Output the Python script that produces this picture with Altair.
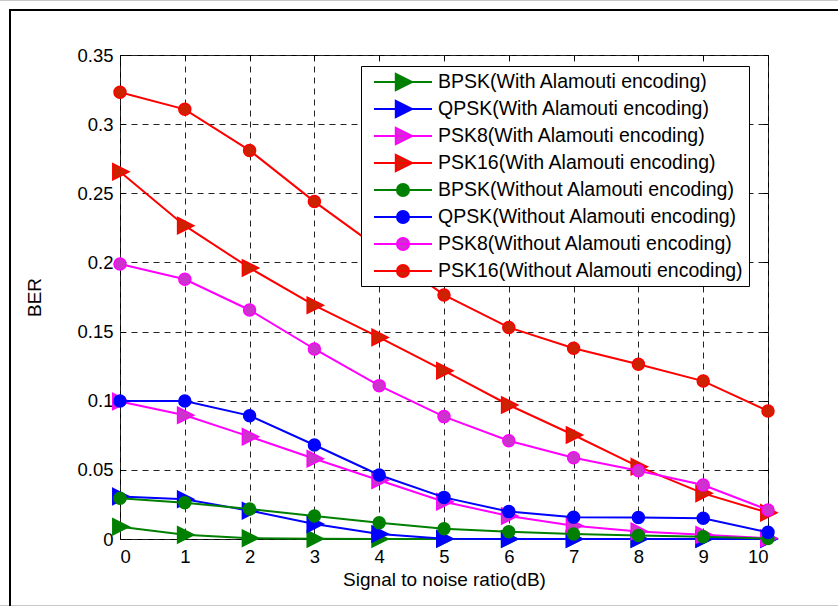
import altair as alt
import pandas as pd

# ---------------- data ----------------
snr = [0, 1, 2, 3, 4, 5, 6, 7, 8, 9, 10]
series_names = [
    "BPSK(With Alamouti encoding)",
    "QPSK(With Alamouti encoding)",
    "PSK8(With Alamouti encoding)",
    "PSK16(With Alamouti encoding)",
    "BPSK(Without Alamouti encoding)",
    "QPSK(Without Alamouti encoding)",
    "PSK8(Without Alamouti encoding)",
    "PSK16(Without Alamouti encoding)",
]
bpsk_with = [0.0089, 0.0030, 0.0006, 0.0001, 0.0, 0.0, 0.0, 0.0, 0.0, 0.0, 0.0]
qpsk_with = [0.0308, 0.0288, 0.0205, 0.0108, 0.0036, 0.0002, 0.0, 0.0, 0.0, 0.0, 0.0]
psk8_with = [0.0995, 0.0895, 0.0740, 0.0580, 0.0425, 0.0270, 0.0166, 0.0095, 0.0055, 0.0030, 0.0005]
psk16_with = [0.2656, 0.2266, 0.1960, 0.1690, 0.1458, 0.1217, 0.0969, 0.0752, 0.0523, 0.0330, 0.0190]
bpsk_without = [0.0294, 0.0263, 0.0217, 0.0166, 0.0118, 0.0074, 0.0053, 0.0036, 0.0025, 0.0017, 0.0003]
qpsk_without = [0.0998, 0.0998, 0.0892, 0.0680, 0.0463, 0.0301, 0.0198, 0.0158, 0.0156, 0.0150, 0.0048]
psk8_without = [0.1989, 0.1878, 0.1656, 0.1374, 0.1109, 0.0885, 0.0711, 0.0588, 0.0494, 0.0390, 0.0210]
psk16_without = [0.3230, 0.3107, 0.2810, 0.2440, 0.2100, 0.1765, 0.1530, 0.1380, 0.1263, 0.1142, 0.0926]
series_values = [bpsk_with, qpsk_with, psk8_with, psk16_with,
                 bpsk_without, qpsk_without, psk8_without, psk16_without]
y_ticks = [0, 0.05, 0.1, 0.15, 0.2, 0.25, 0.3, 0.35]

# ---------------- style ----------------
line_colors = ["#008000", "#0000ff", "#ff00ff", "#ff0000"] * 2
fill_colors = ["#008000", "#0000ff", "#cc33cc", "#cc2200"] * 2
TRI = "M-0.8,-0.9L1,0L-0.8,0.9Z"
plot_shapes = [TRI] * 4 + ["circle"] * 4
plot_sizes = [324] * 4 + [144] * 4
TRI_LEG = "M-2.9,0H2.9M-0.72,-0.81L0.9,0L-0.72,0.81Z"
CIRC_LEG = "M-2.9,0H2.9M-0.6,0A0.6,0.6,0,1,0,0.6,0A0.6,0.6,0,1,0,-0.6,0Z"
legend_shapes = [TRI_LEG] * 4 + [CIRC_LEG] * 4
FONT = "Liberation Sans"
W, H = 648, 484

rows = []
for name, vals in zip(series_names, series_values):
    for s, v in zip(snr, vals):
        rows.append({"snr": s, "ber": v, "series": name})
df = pd.DataFrame(rows)


def xenc(axis):
    return alt.X("snr:Q", scale=alt.Scale(domain=[0, 10], nice=False, zero=False), axis=axis)


def yenc(axis):
    return alt.Y("ber:Q", scale=alt.Scale(domain=[0, 0.35], nice=False), axis=axis)


main_x = alt.Axis(values=snr, grid=True, gridDash=[6, 5], gridColor="#222", gridWidth=1,
                  ticks=False, domain=False, labelFontSize=18.5, labelColor="black",
                  labelPadding=8, labelFont=FONT, title="Signal to noise ratio(dB)",
                  titleFontSize=19, titleFontWeight="normal", titleColor="black",
                  titleFont=FONT, titlePadding=5)
main_y = alt.Axis(values=y_ticks, format="~g", grid=True, gridDash=[6, 5], gridColor="#222",
                  gridWidth=1, ticks=False, domain=False, labelFontSize=18.5,
                  labelColor="black", labelPadding=7, labelFont=FONT, title="BER",
                  titleFontSize=19, titleFontWeight="normal", titleColor="black",
                  titleFont=FONT, titlePadding=32)


def tick_axis(orient, offset, values):
    return alt.Axis(orient=orient, offset=offset, values=values, labels=False, domain=False,
                    grid=False, ticks=True, tickSize=5, tickColor="black", tickWidth=1,
                    title="")


layers = []
# outer figure frames
one = alt.Data(values=[{"a": 1}])
layers.append(alt.Chart(one).mark_rect(filled=False, stroke="#c8c8c8", strokeWidth=1).encode(
    x=alt.value(-140), x2=alt.value(740), y=alt.value(-54.5), y2=alt.value(550.5)))
layers.append(alt.Chart(one).mark_rect(filled=False, stroke="black", strokeWidth=2).encode(
    x=alt.value(-110), x2=alt.value(760), y=alt.value(-45), y2=alt.value(600)))

for i, name in enumerate(series_names):
    base = alt.Chart(df).transform_filter(alt.datum.series == name)
    if i == 0:
        ax_l, ay_l = main_x, main_y
        ax_p, ay_p = tick_axis("top", -H, snr), tick_axis("right", -W, y_ticks)
    elif i == 1:
        ax_l, ay_l = tick_axis("bottom", -H, snr), tick_axis("left", -W, y_ticks)
        ax_p, ay_p = None, None
    else:
        ax_l, ay_l, ax_p, ay_p = None, None, None, None
    line = base.mark_line(color=line_colors[i], strokeWidth=2).encode(
        x=xenc(ax_l), y=yenc(ay_l))
    pts = base.mark_point(filled=True, shape=plot_shapes[i], size=plot_sizes[i],
                          fill=fill_colors[i], stroke=line_colors[i], strokeWidth=1.5,
                          opacity=1).encode(x=xenc(ax_p), y=yenc(ay_p))
    layers += [line, pts]

leg = alt.Legend(title=None, orient="none", legendX=241, legendY=11, symbolSize=400,
                 symbolStrokeWidth=2, symbolOpacity=1, labelFontSize=19.5, labelFont=FONT,
                 labelColor="black", labelLimit=500, padding=5, rowPadding=1,
                 gridAlign="all", symbolOffset=26, labelOffset=24, strokeColor="black",
                 fillColor="white", cornerRadius=0)
legend_layer = alt.Chart(df).transform_filter("false").mark_point(
    filled=True, opacity=1, strokeWidth=2).encode(
    x=xenc(None), y=yenc(None),
    shape=alt.Shape("series:N", scale=alt.Scale(domain=series_names, range=legend_shapes), legend=leg),
    fill=alt.Fill("series:N", scale=alt.Scale(domain=series_names, range=fill_colors), legend=leg),
    stroke=alt.Stroke("series:N", scale=alt.Scale(domain=series_names, range=line_colors), legend=leg),
)
layers.append(legend_layer)

chart = alt.layer(*layers).resolve_axis(x="independent", y="independent").properties(
    width=W, height=H,
    autosize=alt.AutoSizeParams(type="none"),
    padding={"left": 120, "top": 55, "right": 70, "bottom": 67},
    background="white",
).configure(font=FONT).configure_view(stroke="black", strokeWidth=1)

chart.save("out.html", embed_options={"renderer": "svg", "actions": False})
